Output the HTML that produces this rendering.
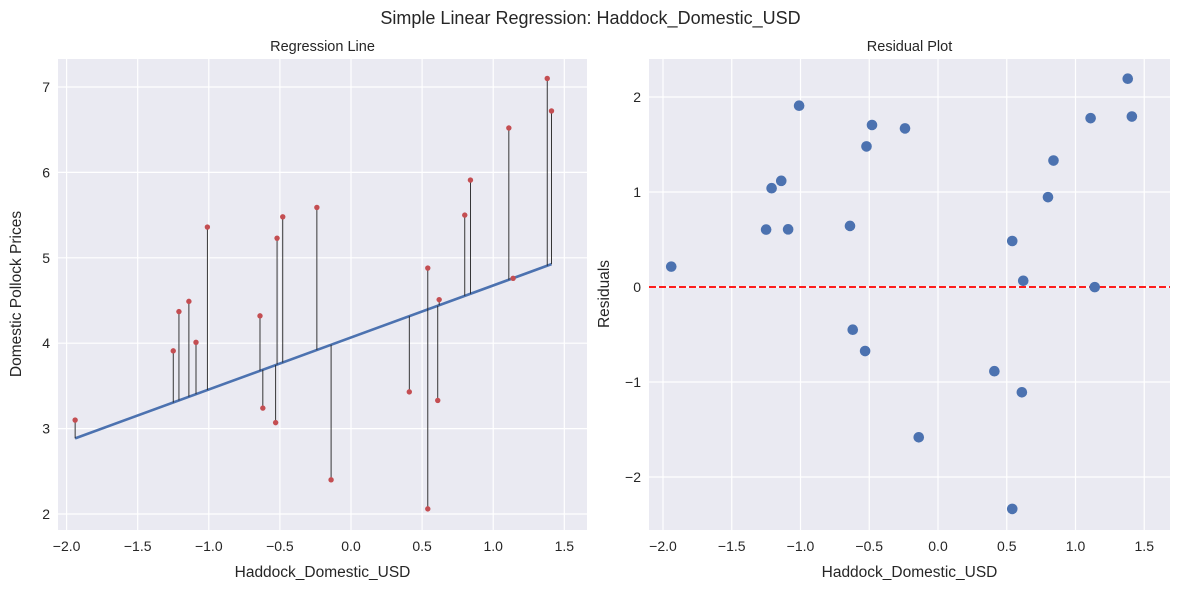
<!DOCTYPE html>
<html><head><meta charset="utf-8"><style>
html,body{margin:0;padding:0;background:#fff;}
svg{display:block;font-family:"Liberation Sans","DejaVu Sans",sans-serif;}
</style></head><body>
<svg id="c" width="1181" height="589"></svg>
<script>
const xs=[-1.94,-1.25,-1.21,-1.14,-1.09,-1.01,-0.64,-0.62,-0.53,-0.52,-0.48,-0.24,-0.14,0.41,0.54,0.54,0.62,0.61,0.80,0.84,1.11,1.14,1.38,1.41];
const ys=[3.10,3.91,4.37,4.49,4.01,5.36,4.32,3.24,3.07,5.23,5.48,5.59,2.40,3.43,4.88,2.06,4.51,3.33,5.50,5.91,6.52,4.76,7.10,6.72];
const slope=0.609, intercept=4.067;
const xTicks=[-2.0,-1.5,-1.0,-0.5,0.0,0.5,1.0,1.5];
const xTickLabels=["−2.0","−1.5","−1.0","−0.5","0.0","0.5","1.0","1.5"];
const yTicksL=[2,3,4,5,6,7];
const yTicksR=[-2,-1,0,1,2];
const yTickLabelsR=["−2","−1","0","1","2"];

const svg=document.getElementById('c');
const NS='http://www.w3.org/2000/svg';
function mk(tag,attrs,parent){const e=document.createElementNS(NS,tag);for(const k in attrs)e.setAttribute(k,attrs[k]);(parent||svg).appendChild(e);return e;}
function txt(s,x,y,size,anchor,parent,rot){const t=mk('text',{x:x,y:y,'font-size':size,fill:'#262626','text-anchor':anchor||'middle'},parent);if(rot)t.setAttribute('transform',`rotate(-90 ${x} ${y})`);t.textContent=s;return t;}

const title=txt('Simple Linear Regression: Haddock_Domestic_USD',590.5,24,18);



const L={x0:58,x1:587,y0:59,y1:530};
const lx=v=>351+v*142.2, ly=v=>514-(v-2)*85.4;
const gL=mk('g',{});


mk('rect',{x:L.x0,y:L.y0,width:L.x1-L.x0,height:L.y1-L.y0,fill:'#eaeaf2'},gL);
xTicks.forEach((v,i)=>{mk('line',{x1:lx(v),x2:lx(v),y1:L.y0,y2:L.y1,stroke:'#fff','stroke-width':1.2},gL);
 const t=txt(xTickLabels[i],lx(v),551,14,'middle',gL);});
yTicksL.forEach(v=>{mk('line',{x1:L.x0,x2:L.x1,y1:ly(v),y2:ly(v),stroke:'#fff','stroke-width':1.2},gL);
 const t=txt(String(v),L.x0-8,ly(v)+5,14,'end',gL);});
let xmin=Math.min(...xs),xmax=Math.max(...xs);
const rl=mk('line',{x1:lx(xmin),y1:ly(intercept+slope*xmin),x2:lx(xmax),y2:ly(intercept+slope*xmax),stroke:'#4c72b0','stroke-width':2.6},gL);


xs.forEach((x,i)=>{const f=intercept+slope*x;
 const s=mk('line',{x1:lx(x),x2:lx(x),y1:ly(f),y2:ly(ys[i]),stroke:'#222','stroke-width':0.9},gL);
 
 
 const p=mk('circle',{cx:lx(x),cy:ly(ys[i]),r:2.7,fill:'#c44e52'},gL);
 
 });
let t=txt('Regression Line',322.5,51,14.5,'middle',gL);
t=txt('Haddock_Domestic_USD',322.5,577,15.5,'middle',gL);
t=txt('Domestic Pollock Prices',21,294,15.5,'middle',gL,true);

const R={x0:649,x1:1170,y0:59,y1:530};
const rx=v=>938+v*137.5, ry=v=>287-v*95;
const gR=mk('g',{});


mk('rect',{x:R.x0,y:R.y0,width:R.x1-R.x0,height:R.y1-R.y0,fill:'#eaeaf2'},gR);
xTicks.forEach((v,i)=>{mk('line',{x1:rx(v),x2:rx(v),y1:R.y0,y2:R.y1,stroke:'#fff','stroke-width':1.2},gR);
 const t=txt(xTickLabels[i],rx(v),551,14,'middle',gR);});
yTicksR.forEach((v,i)=>{mk('line',{x1:R.x0,x2:R.x1,y1:ry(v),y2:ry(v),stroke:'#fff','stroke-width':1.2},gR);
 const t=txt(yTickLabelsR[i],R.x0-8,ry(v)+5,14,'end',gR);});
const zl=mk('line',{x1:R.x0,x2:R.x1,y1:ry(0),y2:ry(0),stroke:'#ff0000','stroke-width':1.8,'stroke-dasharray':'7,3'},gR);


xs.forEach((x,i)=>{const r=ys[i]-(intercept+slope*x);
 const p=mk('circle',{cx:rx(x),cy:ry(r),r:5.3,fill:'#4c72b0'},gR);
 
 });
t=txt('Residual Plot',909.5,51,14.5,'middle',gR);
t=txt('Haddock_Domestic_USD',909.5,577,15.5,'middle',gR);
t=txt('Residuals',609,294,15.5,'middle',gR,true);
</script>
</body></html>
